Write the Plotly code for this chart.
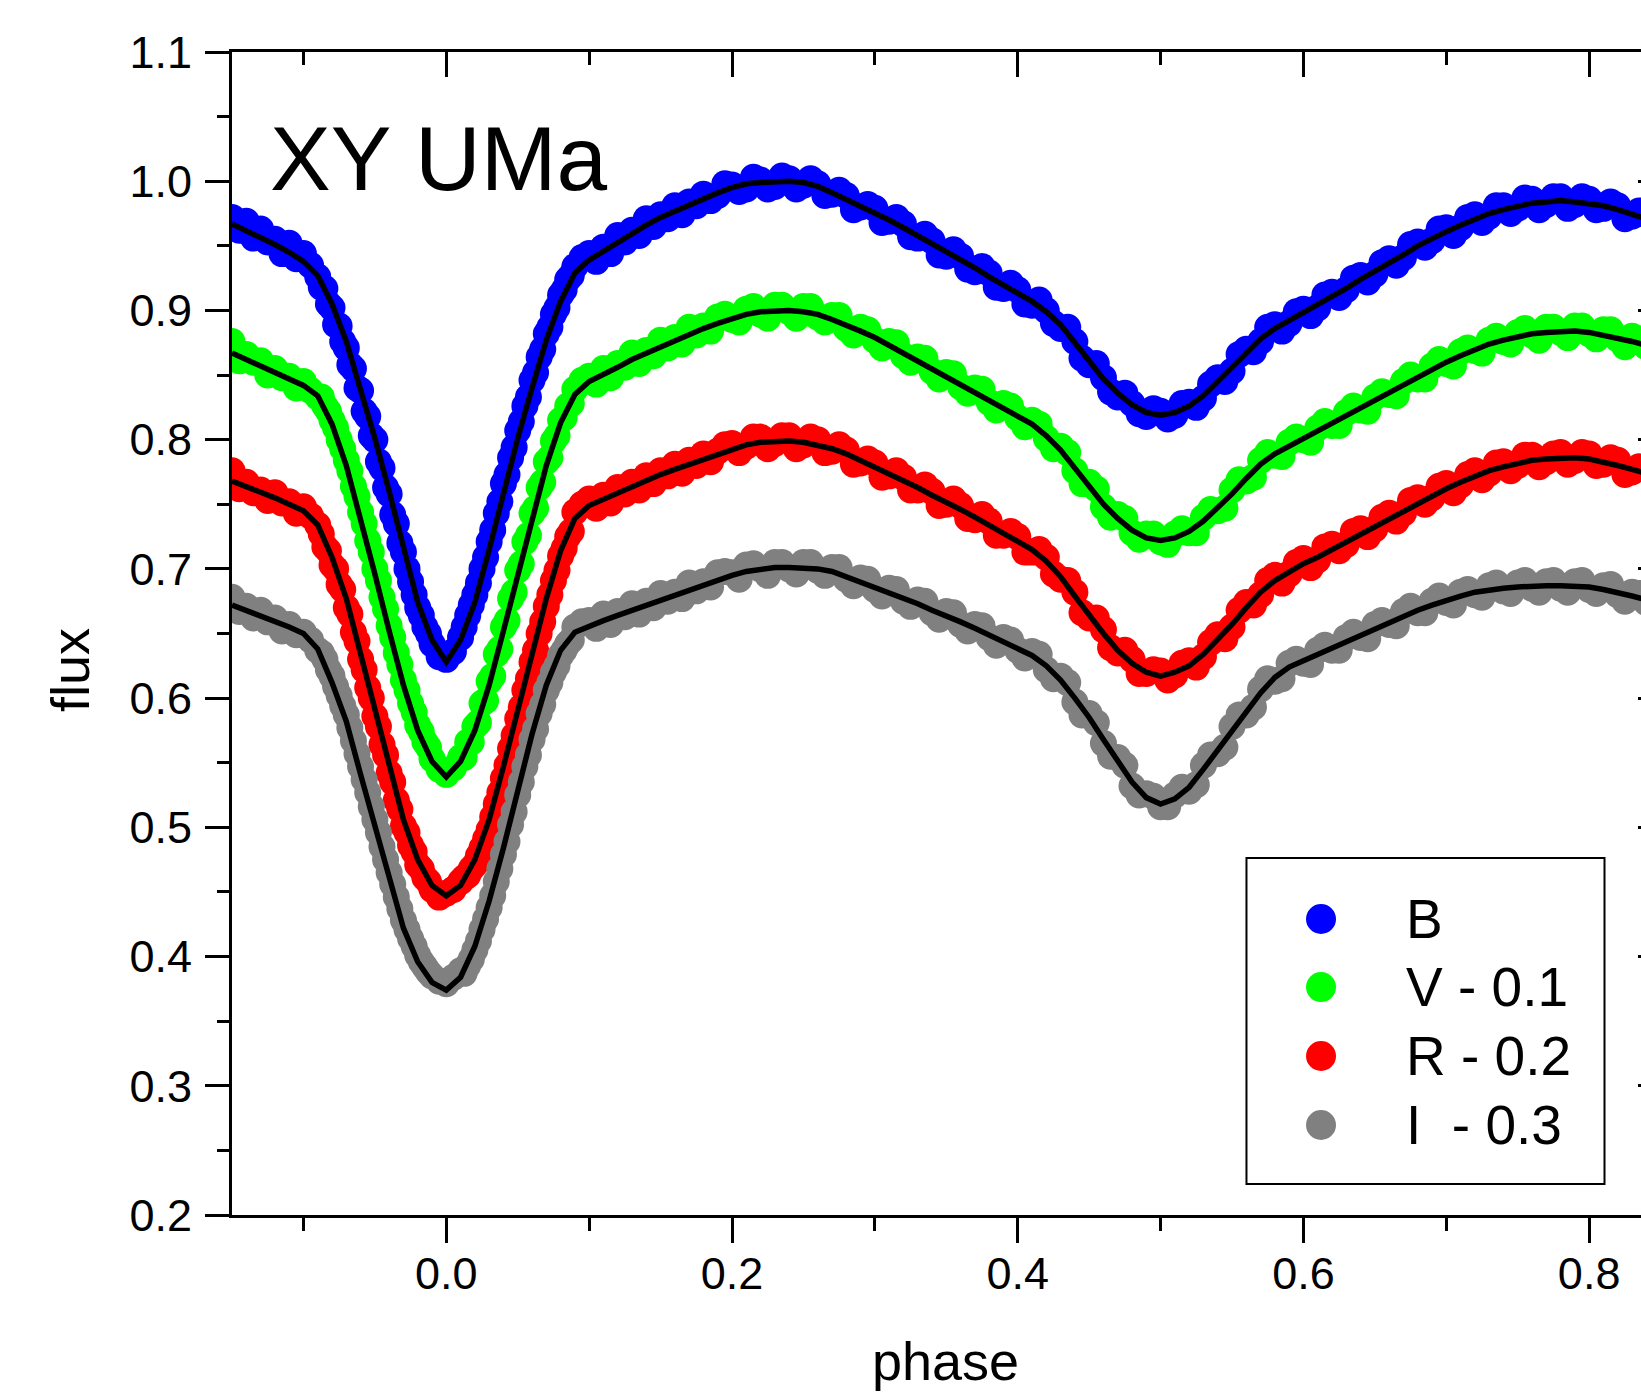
import plotly.graph_objects as go

# ---------------- data ----------------
phase_model = [-0.15, -0.14, -0.13, -0.12, -0.11, -0.10, -0.09, -0.08, -0.07, -0.06,
               -0.05, -0.04, -0.03, -0.02, -0.01, 0.00, 0.01, 0.02, 0.03, 0.04,
               0.05, 0.06, 0.07, 0.08, 0.09, 0.10, 0.11, 0.12, 0.13, 0.14,
               0.15, 0.16, 0.17, 0.18, 0.19, 0.20, 0.21, 0.22, 0.23, 0.24,
               0.25, 0.26, 0.27, 0.28, 0.29, 0.30, 0.31, 0.32, 0.33, 0.34,
               0.35, 0.36, 0.37, 0.38, 0.39, 0.40, 0.41, 0.42, 0.43, 0.44,
               0.45, 0.46, 0.47, 0.48, 0.49, 0.50, 0.51, 0.52, 0.53, 0.54,
               0.55, 0.56, 0.57, 0.58, 0.59, 0.60, 0.61, 0.62, 0.63, 0.64,
               0.65, 0.66, 0.67, 0.68, 0.69, 0.70, 0.71, 0.72, 0.73, 0.74,
               0.75, 0.76, 0.77, 0.78, 0.79, 0.80, 0.81, 0.82, 0.83, 0.84]

model_B = [0.967, 0.962, 0.957, 0.951, 0.945, 0.938, 0.927, 0.905, 0.876, 0.840,
           0.801, 0.760, 0.715, 0.674, 0.645, 0.628, 0.645, 0.674, 0.715, 0.760,
           0.801, 0.840, 0.877, 0.907, 0.929, 0.939, 0.946, 0.953, 0.960, 0.966,
           0.972, 0.977, 0.982, 0.987, 0.991, 0.995, 0.998, 0.999, 1.000, 1.000,
           0.999, 0.996, 0.991, 0.986, 0.981, 0.976, 0.970, 0.964, 0.958, 0.951,
           0.945, 0.939, 0.933, 0.926, 0.920, 0.914, 0.907, 0.899, 0.889, 0.875,
           0.861, 0.847, 0.836, 0.827, 0.821, 0.819, 0.821, 0.826, 0.834, 0.845,
           0.856, 0.867, 0.878, 0.886, 0.892, 0.898, 0.904, 0.911, 0.917, 0.924,
           0.930, 0.937, 0.943, 0.950, 0.956, 0.961, 0.966, 0.971, 0.975, 0.978,
           0.981, 0.983, 0.984, 0.985, 0.984, 0.983, 0.981, 0.978, 0.975, 0.971]

model_V = [0.867, 0.862, 0.857, 0.852, 0.847, 0.842, 0.834, 0.812, 0.780, 0.740,
           0.696, 0.652, 0.610, 0.575, 0.551, 0.539, 0.551, 0.575, 0.610, 0.652,
           0.696, 0.740, 0.780, 0.813, 0.835, 0.845, 0.850, 0.856, 0.862, 0.867,
           0.872, 0.877, 0.882, 0.886, 0.890, 0.894, 0.897, 0.899, 0.900, 0.900,
           0.899, 0.897, 0.893, 0.889, 0.884, 0.879, 0.873, 0.867, 0.861, 0.855,
           0.849, 0.843, 0.837, 0.831, 0.825, 0.819, 0.812, 0.803, 0.792, 0.778,
           0.764, 0.750, 0.739, 0.730, 0.724, 0.722, 0.724, 0.729, 0.737, 0.747,
           0.758, 0.770, 0.781, 0.789, 0.795, 0.801, 0.806, 0.812, 0.818, 0.824,
           0.830, 0.836, 0.842, 0.848, 0.854, 0.860, 0.865, 0.870, 0.874, 0.877,
           0.880, 0.882, 0.883, 0.884, 0.884, 0.883, 0.881, 0.879, 0.876, 0.873]

model_R = [0.768, 0.764, 0.759, 0.755, 0.750, 0.745, 0.734, 0.709, 0.677, 0.635,
           0.591, 0.547, 0.506, 0.475, 0.455, 0.447, 0.455, 0.475, 0.506, 0.547,
           0.591, 0.635, 0.677, 0.714, 0.739, 0.749, 0.754, 0.759, 0.764, 0.768,
           0.773, 0.777, 0.781, 0.785, 0.789, 0.793, 0.796, 0.798, 0.799, 0.799,
           0.798, 0.796, 0.793, 0.789, 0.784, 0.779, 0.774, 0.768, 0.763, 0.757,
           0.752, 0.746, 0.740, 0.734, 0.728, 0.722, 0.715, 0.706, 0.694, 0.679,
           0.664, 0.650, 0.637, 0.627, 0.620, 0.617, 0.620, 0.625, 0.634, 0.645,
           0.657, 0.670, 0.682, 0.691, 0.698, 0.704, 0.709, 0.715, 0.721, 0.727,
           0.733, 0.739, 0.745, 0.751, 0.757, 0.762, 0.767, 0.772, 0.776, 0.779,
           0.782, 0.784, 0.785, 0.786, 0.786, 0.785, 0.783, 0.780, 0.777, 0.774]

model_I = [0.672, 0.668, 0.664, 0.659, 0.655, 0.650, 0.638, 0.612, 0.582, 0.541,
           0.500, 0.459, 0.422, 0.396, 0.380, 0.374, 0.384, 0.408, 0.443, 0.484,
           0.530, 0.572, 0.610, 0.637, 0.651, 0.656, 0.660, 0.664, 0.668, 0.672,
           0.676, 0.680, 0.684, 0.688, 0.692, 0.695, 0.698, 0.700, 0.701, 0.701,
           0.701, 0.700, 0.698, 0.694, 0.690, 0.686, 0.682, 0.677, 0.673, 0.668,
           0.664, 0.659, 0.654, 0.649, 0.644, 0.639, 0.633, 0.625, 0.614, 0.600,
           0.585, 0.568, 0.551, 0.535, 0.523, 0.518, 0.522, 0.531, 0.545, 0.560,
           0.575, 0.590, 0.604, 0.616, 0.624, 0.629, 0.634, 0.639, 0.644, 0.649,
           0.654, 0.659, 0.664, 0.668, 0.672, 0.676, 0.679, 0.682, 0.684, 0.685,
           0.686, 0.687, 0.687, 0.687, 0.687, 0.686, 0.684, 0.682, 0.679, 0.676]

# observed points, first set
phase_obs = [-0.15, -0.14, -0.13, -0.12, -0.11, -0.10, -0.095, -0.09,
             -0.0875, -0.085, -0.0825, -0.08, -0.0775, -0.075, -0.0725, -0.07,
             -0.0675, -0.065, -0.0625, -0.06, -0.0575, -0.055, -0.0525, -0.05,
             -0.0475, -0.045, -0.0425, -0.04, -0.0375, -0.035, -0.0325, -0.03,
             -0.0275, -0.025, -0.0225, -0.02, -0.0175, -0.015, -0.0125,
             -0.01, -0.005, 0.0, 0.005, 0.01,
             0.0125, 0.015, 0.0175, 0.02, 0.0225, 0.025, 0.0275, 0.03,
             0.0325, 0.035, 0.0375, 0.04, 0.0425, 0.045, 0.0475, 0.05,
             0.0525, 0.055, 0.0575, 0.06, 0.0625, 0.065, 0.0675, 0.07,
             0.0725, 0.075, 0.0775, 0.08, 0.0825, 0.085, 0.0875,
             0.09, 0.095, 0.10, 0.11, 0.12, 0.13, 0.14, 0.15, 0.16, 0.17,
             0.18, 0.19, 0.20, 0.21, 0.22, 0.23, 0.24, 0.25, 0.26, 0.27,
             0.28, 0.29, 0.30, 0.31, 0.32, 0.33, 0.34, 0.35, 0.36, 0.37,
             0.38, 0.39, 0.40, 0.41, 0.42, 0.43, 0.44, 0.45, 0.46, 0.47,
             0.48, 0.49, 0.50, 0.51, 0.52, 0.53, 0.54, 0.55, 0.56, 0.57,
             0.58, 0.59, 0.60, 0.61, 0.62, 0.63, 0.64, 0.65, 0.66, 0.67,
             0.68, 0.69, 0.70, 0.71, 0.72, 0.73, 0.74, 0.75, 0.76, 0.77,
             0.78, 0.79, 0.80, 0.81, 0.82, 0.83, 0.84]

obs_B = [0.972, 0.969, 0.963, 0.955, 0.952, 0.944, 0.935, 0.926,
         0.918, 0.917, 0.905, 0.902, 0.889, 0.888, 0.876, 0.871,
         0.858, 0.855, 0.840, 0.838, 0.822, 0.818, 0.803, 0.800,
         0.783, 0.778, 0.763, 0.758, 0.742, 0.735, 0.720, 0.713,
         0.700, 0.690, 0.680, 0.670, 0.664, 0.655, 0.650,
         0.642, 0.632, 0.630, 0.636, 0.647,
         0.655, 0.664, 0.672, 0.680, 0.689, 0.700, 0.709, 0.721,
         0.730, 0.743, 0.752, 0.766, 0.773, 0.786, 0.794, 0.807,
         0.814, 0.826, 0.833, 0.846, 0.852, 0.864, 0.870, 0.882,
         0.887, 0.897, 0.902, 0.912, 0.916, 0.924, 0.927,
         0.934, 0.941, 0.944, 0.949, 0.958, 0.962, 0.971, 0.974, 0.981, 0.984,
         0.990, 0.989, 0.997, 0.994, 1.001, 0.996, 1.002, 0.997, 0.998, 0.990,
         0.989, 0.980, 0.979, 0.969, 0.967, 0.956, 0.954, 0.942, 0.942, 0.930,
         0.929, 0.917, 0.916, 0.904, 0.900, 0.886, 0.876, 0.858, 0.848, 0.833,
         0.828, 0.818, 0.822, 0.819, 0.829, 0.832, 0.848, 0.853, 0.870, 0.876,
         0.889, 0.890, 0.901, 0.902, 0.914, 0.916, 0.927, 0.928, 0.940, 0.941,
         0.953, 0.954, 0.964, 0.964, 0.974, 0.973, 0.981, 0.979, 0.986, 0.982,
         0.988, 0.982, 0.986, 0.979, 0.981, 0.973, 0.974]

obs_V = [0.876, 0.866, 0.861, 0.855, 0.849, 0.845, 0.838, 0.833,
         0.833, 0.826, 0.822, 0.815, 0.809, 0.800, 0.793, 0.784,
         0.776, 0.764, 0.756, 0.744, 0.735, 0.722, 0.713, 0.700,
         0.691, 0.678, 0.669, 0.656, 0.647, 0.635, 0.626, 0.614,
         0.606, 0.596, 0.589, 0.579, 0.574, 0.566, 0.562,
         0.553, 0.545, 0.541, 0.546, 0.554,
         0.554, 0.566, 0.566, 0.578, 0.581, 0.596, 0.598, 0.613,
         0.617, 0.634, 0.638, 0.655, 0.660, 0.677, 0.682, 0.699,
         0.704, 0.721, 0.726, 0.743, 0.747, 0.763, 0.767, 0.783,
         0.786, 0.799, 0.803, 0.815, 0.817, 0.826, 0.828,
         0.839, 0.846, 0.849, 0.855, 0.859, 0.867, 0.869, 0.877, 0.879, 0.887,
         0.888, 0.895, 0.893, 0.901, 0.897, 0.904, 0.899, 0.903, 0.895, 0.896,
         0.886, 0.887, 0.877, 0.876, 0.865, 0.864, 0.853, 0.852, 0.841, 0.840,
         0.829, 0.828, 0.817, 0.815, 0.801, 0.795, 0.776, 0.767, 0.748, 0.742,
         0.728, 0.727, 0.721, 0.727, 0.728, 0.740, 0.745, 0.761, 0.768, 0.784,
         0.788, 0.798, 0.800, 0.809, 0.811, 0.821, 0.823, 0.833, 0.835, 0.845,
         0.847, 0.857, 0.859, 0.868, 0.869, 0.877, 0.876, 0.883, 0.881, 0.887,
         0.883, 0.888, 0.882, 0.885, 0.878, 0.880, 0.872]

obs_R = [0.776, 0.767, 0.761, 0.759, 0.752, 0.748, 0.741, 0.734,
         0.727, 0.717, 0.714, 0.703, 0.700, 0.688, 0.684, 0.670,
         0.665, 0.651, 0.644, 0.630, 0.622, 0.608, 0.600, 0.586,
         0.578, 0.564, 0.556, 0.542, 0.535, 0.521, 0.514, 0.501,
         0.496, 0.486, 0.481, 0.471, 0.468, 0.461, 0.458,
         0.452, 0.446, 0.449, 0.452, 0.458,
         0.461, 0.463, 0.468, 0.471, 0.478, 0.484, 0.491, 0.498,
         0.508, 0.518, 0.527, 0.538, 0.548, 0.561, 0.571, 0.584,
         0.593, 0.606, 0.615, 0.628, 0.637, 0.650, 0.659, 0.671,
         0.680, 0.691, 0.699, 0.710, 0.716, 0.725, 0.729,
         0.744, 0.750, 0.754, 0.757, 0.763, 0.767, 0.772, 0.776, 0.781, 0.784,
         0.789, 0.791, 0.797, 0.795, 0.802, 0.797, 0.803, 0.796, 0.800, 0.791,
         0.792, 0.782, 0.782, 0.772, 0.771, 0.761, 0.760, 0.750, 0.749, 0.738,
         0.737, 0.726, 0.725, 0.713, 0.709, 0.692, 0.682, 0.662, 0.653, 0.635,
         0.630, 0.619, 0.621, 0.618, 0.629, 0.632, 0.649, 0.655, 0.674, 0.680,
         0.695, 0.696, 0.708, 0.707, 0.719, 0.719, 0.731, 0.731, 0.743, 0.743,
         0.755, 0.755, 0.766, 0.765, 0.776, 0.774, 0.783, 0.780, 0.788, 0.783,
         0.790, 0.784, 0.789, 0.781, 0.784, 0.775, 0.777]

obs_I = [0.678, 0.671, 0.668, 0.662, 0.657, 0.651, 0.645, 0.637,
         0.635, 0.630, 0.622, 0.617, 0.609, 0.602, 0.594, 0.587,
         0.577, 0.567, 0.557, 0.547, 0.537, 0.527, 0.516, 0.506,
         0.496, 0.485, 0.475, 0.465, 0.456, 0.446, 0.437, 0.428,
         0.421, 0.414, 0.408, 0.401, 0.396, 0.392, 0.388,
         0.385, 0.381, 0.379, 0.384, 0.389,
         0.387, 0.393, 0.398, 0.405, 0.412, 0.421, 0.429, 0.438,
         0.447, 0.458, 0.468, 0.479, 0.489, 0.502, 0.512, 0.525,
         0.535, 0.547, 0.556, 0.568, 0.576, 0.588, 0.595, 0.606,
         0.612, 0.620, 0.625, 0.633, 0.637, 0.642, 0.645,
         0.655, 0.659, 0.660, 0.665, 0.667, 0.673, 0.675, 0.681, 0.682, 0.689,
         0.690, 0.697, 0.697, 0.703, 0.700, 0.705, 0.700, 0.705, 0.699, 0.701,
         0.692, 0.693, 0.684, 0.685, 0.675, 0.676, 0.666, 0.667, 0.657, 0.657,
         0.647, 0.647, 0.637, 0.636, 0.622, 0.617, 0.597, 0.588, 0.565, 0.554,
         0.532, 0.526, 0.516, 0.525, 0.528, 0.548, 0.557, 0.578, 0.587, 0.607,
         0.613, 0.627, 0.627, 0.637, 0.637, 0.647, 0.647, 0.657, 0.657, 0.667,
         0.666, 0.675, 0.674, 0.682, 0.680, 0.687, 0.683, 0.689, 0.685, 0.690,
         0.685, 0.690, 0.684, 0.687, 0.680, 0.682, 0.674]

# observed points, second (interleaved) set
phase_obs2 = [-0.145, -0.135, -0.125, -0.115, -0.105,
              0.105, 0.115, 0.125, 0.135, 0.145, 0.155, 0.165, 0.175, 0.185, 0.195,
              0.205, 0.215, 0.225, 0.235, 0.245, 0.255, 0.265, 0.275, 0.285, 0.295,
              0.305, 0.315, 0.325, 0.335, 0.345, 0.355, 0.365, 0.375, 0.385, 0.395,
              0.405, 0.415, 0.425, 0.435, 0.445, 0.455, 0.465, 0.475, 0.485, 0.495,
              0.505, 0.515, 0.525, 0.535, 0.545, 0.555, 0.565, 0.575, 0.585, 0.595,
              0.605, 0.615, 0.625, 0.635, 0.645, 0.655, 0.665, 0.675, 0.685, 0.695,
              0.705, 0.715, 0.725, 0.735, 0.745, 0.755, 0.765, 0.775, 0.785, 0.795,
              0.805, 0.815, 0.825, 0.835]

obs2_B = [0.962, 0.956, 0.953, 0.944, 0.940,
          0.938, 0.944, 0.953, 0.958, 0.965, 0.971, 0.974, 0.981, 0.985, 0.998,
          0.992, 1.003, 0.994, 1.004, 0.994, 1.002, 0.989, 0.993, 0.978, 0.982,
          0.968, 0.972, 0.957, 0.959, 0.943, 0.947, 0.932, 0.934, 0.918, 0.921,
          0.905, 0.908, 0.890, 0.887, 0.863, 0.859, 0.837, 0.836, 0.820, 0.824,
          0.816, 0.828, 0.825, 0.843, 0.845, 0.866, 0.868, 0.887, 0.884, 0.899,
          0.896, 0.912, 0.910, 0.925, 0.922, 0.937, 0.935, 0.951, 0.949, 0.963,
          0.958, 0.972, 0.968, 0.981, 0.975, 0.987, 0.978, 0.988, 0.979, 0.988,
          0.978, 0.984, 0.971, 0.977]

obs2_V = [0.861, 0.860, 0.850, 0.848, 0.840,
          0.843, 0.848, 0.856, 0.859, 0.865, 0.871, 0.874, 0.881, 0.884, 0.897,
          0.891, 0.903, 0.894, 0.904, 0.894, 0.903, 0.891, 0.896, 0.881, 0.885,
          0.871, 0.875, 0.860, 0.863, 0.847, 0.851, 0.836, 0.839, 0.823, 0.826,
          0.810, 0.812, 0.793, 0.790, 0.766, 0.762, 0.740, 0.739, 0.723, 0.727,
          0.719, 0.731, 0.728, 0.746, 0.747, 0.769, 0.771, 0.790, 0.787, 0.802,
          0.798, 0.814, 0.811, 0.826, 0.822, 0.837, 0.834, 0.850, 0.847, 0.862,
          0.857, 0.871, 0.867, 0.880, 0.874, 0.886, 0.877, 0.887, 0.879, 0.888,
          0.878, 0.885, 0.872, 0.878]

obs2_R = [0.762, 0.759, 0.753, 0.751, 0.743,
          0.747, 0.751, 0.758, 0.761, 0.766, 0.772, 0.774, 0.780, 0.783, 0.796,
          0.790, 0.802, 0.793, 0.803, 0.793, 0.802, 0.790, 0.796, 0.781, 0.785,
          0.771, 0.776, 0.761, 0.765, 0.749, 0.754, 0.739, 0.742, 0.726, 0.729,
          0.713, 0.715, 0.696, 0.691, 0.666, 0.662, 0.639, 0.637, 0.619, 0.622,
          0.614, 0.627, 0.624, 0.643, 0.646, 0.668, 0.672, 0.691, 0.689, 0.705,
          0.701, 0.717, 0.714, 0.729, 0.725, 0.740, 0.737, 0.753, 0.750, 0.764,
          0.759, 0.773, 0.769, 0.782, 0.776, 0.788, 0.779, 0.789, 0.781, 0.790,
          0.780, 0.786, 0.773, 0.779]

obs2_I = [0.667, 0.662, 0.659, 0.652, 0.649,
          0.654, 0.657, 0.663, 0.665, 0.670, 0.675, 0.677, 0.683, 0.686, 0.698,
          0.692, 0.704, 0.695, 0.705, 0.696, 0.705, 0.695, 0.701, 0.687, 0.692,
          0.679, 0.684, 0.671, 0.675, 0.661, 0.666, 0.652, 0.656, 0.641, 0.645,
          0.631, 0.634, 0.615, 0.612, 0.587, 0.581, 0.555, 0.548, 0.525, 0.524,
          0.516, 0.531, 0.533, 0.556, 0.562, 0.587, 0.593, 0.615, 0.615, 0.630,
          0.626, 0.641, 0.637, 0.651, 0.646, 0.660, 0.656, 0.671, 0.666, 0.679,
          0.672, 0.684, 0.678, 0.689, 0.681, 0.691, 0.682, 0.691, 0.682, 0.691,
          0.681, 0.688, 0.675, 0.681]

band_names = ["B", "V - 0.1", "R - 0.2", "I\u00a0\u00a0- 0.3"]
band_colors = ["#0000FF", "#00FF00", "#FF0000", "#808080"]
obs_all = [obs_B, obs_V, obs_R, obs_I]
obs2_all = [obs2_B, obs2_V, obs2_R, obs2_I]
model_all = [model_B, model_V, model_R, model_I]

x_range = [-0.15, 0.8363]
y_range = [0.2, 1.1]

FONT = "Liberation Sans, Arial, Helvetica, sans-serif"
MARKER_SIZE = 27

# ---------------- figure ----------------
fig = go.Figure()

for name, col, obs, obs2 in zip(band_names, band_colors, obs_all, obs2_all):
    n2 = min(len(phase_obs2), len(obs2))
    n = min(len(phase_obs), len(obs))
    fig.add_trace(go.Scatter(
        x=phase_obs2[:n2] + phase_obs[:n], y=obs2[:n2] + obs[:n],
        mode="markers", name=name,
        marker=dict(size=MARKER_SIZE, color=col, line=dict(width=0)),
        showlegend=False, hoverinfo="skip"))

for name, mod in zip(band_names, model_all):
    n = min(len(phase_model), len(mod))
    fig.add_trace(go.Scatter(
        x=phase_model[:n], y=mod[:n], mode="lines", name=name + " model",
        line=dict(color="black", width=5.5),
        showlegend=False, hoverinfo="skip"))

# helper trace so the mirrored (top / right) axes exist
fig.add_trace(go.Scatter(x=[0.3], y=[0.3], xaxis="x2", yaxis="y2", mode="markers",
                         marker=dict(size=1, opacity=0), showlegend=False,
                         hoverinfo="skip"))

common_tick = dict(tickcolor="black", tickwidth=3, showgrid=False, zeroline=False)

fig.update_layout(
    width=1641, height=1394,
    margin=dict(l=232, r=0, t=52, b=179, pad=0),
    paper_bgcolor="white", plot_bgcolor="white",
    font=dict(family=FONT, color="black"),
    showlegend=False,
    xaxis=dict(range=x_range, tick0=0, dtick=0.2, tickformat=".1f",
               ticks="outside", ticklen=25, showline=True, linewidth=3,
               linecolor="black", tickfont=dict(size=45, family=FONT, color="black"),
               minor=dict(tick0=0, dtick=0.1, ticks="outside", ticklen=13,
                          tickwidth=3, tickcolor="black", showgrid=False),
               ticklabelstandoff=-8,
               **common_tick),
    xaxis2=dict(range=x_range, overlaying="x", side="top", anchor="y",
                tick0=0, dtick=0.2, ticks="inside", ticklen=25,
                showline=True, linewidth=3, linecolor="black",
                showticklabels=False,
                minor=dict(tick0=0, dtick=0.1, ticks="inside", ticklen=13,
                           tickwidth=3, tickcolor="black", showgrid=False),
                **common_tick),
    yaxis=dict(range=y_range, tick0=0, dtick=0.1, tickformat=".1f",
               ticks="outside", ticklen=24, showline=True, linewidth=3,
               linecolor="black", tickfont=dict(size=45, family=FONT, color="black"),
               minor=dict(tick0=0, dtick=0.05, ticks="outside", ticklen=12,
                          tickwidth=3, tickcolor="black", showgrid=False),
               ticklabelstandoff=4,
               **common_tick),
    yaxis2=dict(range=y_range, overlaying="y", side="right", anchor="x",
                tick0=0, dtick=0.1, ticks="inside", ticklen=3,
                showline=False, showticklabels=False, **common_tick),
)

# axis titles and label
fig.add_annotation(text="phase", xref="paper", yref="paper", x=0.5067, y=-0.1255,
                   xanchor="center", yanchor="middle", showarrow=False,
                   font=dict(size=54, family=FONT, color="black"))
fig.add_annotation(text="flux", xref="paper", yref="paper", x=-0.115, y=0.4686,
                   xanchor="center", yanchor="middle", textangle=-90, showarrow=False,
                   font=dict(size=54, family=FONT, color="black"))
fig.add_annotation(text="XY UMa", xref="paper", yref="paper", x=0.0252, y=0.908,
                   xanchor="left", yanchor="middle", showarrow=False,
                   font=dict(size=91, family=FONT, color="black"))

# legend (drawn manually to keep the large symbols)
fig.add_shape(type="rect", xref="paper", yref="paper",
              x0=0.7200, x1=0.9741, y0=0.0267, y1=0.3070,
              line=dict(color="black", width=2), fillcolor="white", layer="above")
legend_rows_y = [0.2545, 0.1960, 0.1367, 0.0774]
for name, col, yy in zip(band_names, band_colors, legend_rows_y):
    fig.add_shape(type="circle", xref="paper", yref="paper",
                  xsizemode="pixel", ysizemode="pixel",
                  xanchor=0.7729, yanchor=yy, x0=-15, x1=15, y0=-15, y1=15,
                  fillcolor=col, line=dict(width=0), layer="above")
    fig.add_annotation(text=name, xref="paper", yref="paper", x=0.8320, y=yy,
                       xanchor="left", yanchor="middle", showarrow=False,
                       font=dict(size=55, family=FONT, color="black"))

fig.write_html("out.html",
               config={"displayModeBar": False},
               post_script="document.body.style.margin='0';"
                           "document.body.style.overflow='hidden';")
